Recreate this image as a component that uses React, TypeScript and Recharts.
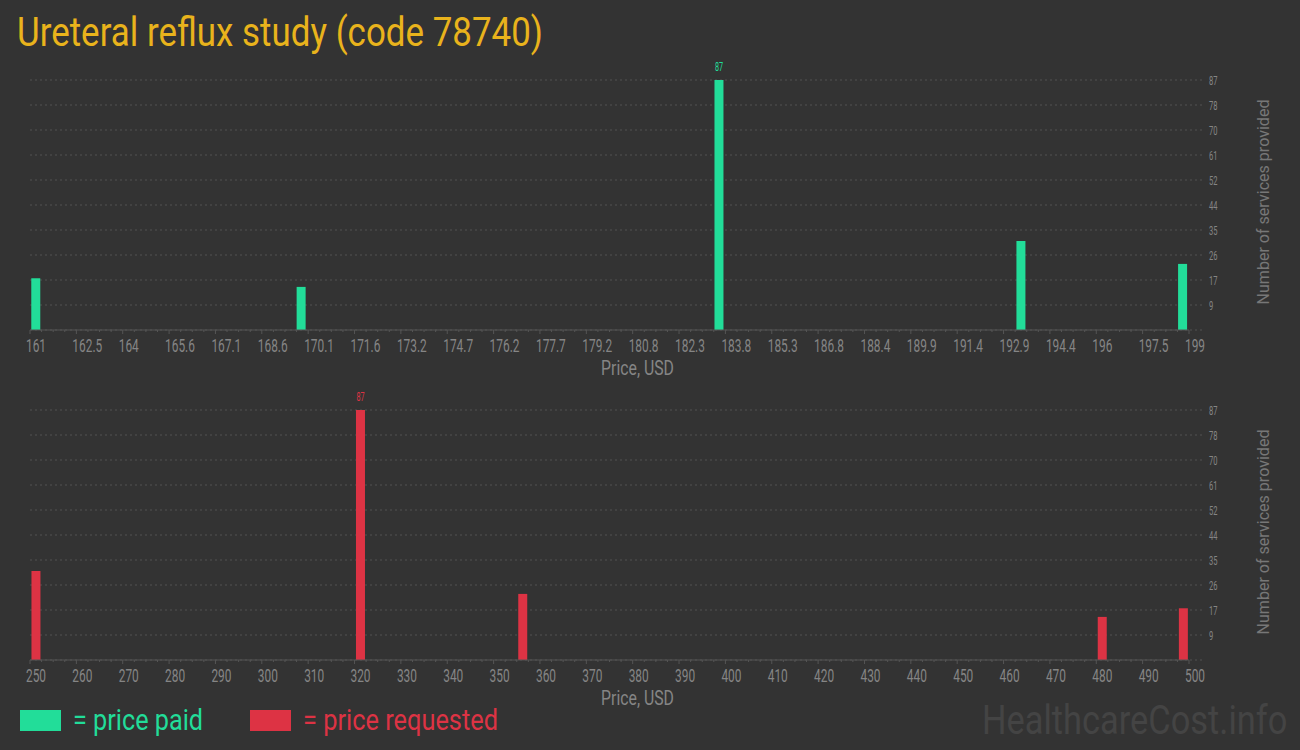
import React from 'react';
import { BarChart, Bar, XAxis, YAxis, CartesianGrid, ReferenceLine, LabelList } from 'recharts';

const paidPrices = [161.2, 169.9, 183.6, 193.5, 198.8];
const paidCounts = [18, 15, 87, 31, 23];
const requestedPrices = [251.3, 321.3, 356.3, 481.3, 498.8];
const requestedCounts = [31, 87, 23, 15, 18];

const paidTicks = [
  161, 162.52, 164.04, 165.56, 167.08, 168.6, 170.12, 171.64, 173.16, 174.68, 176.2, 177.72, 179.24,
  180.76, 182.28, 183.8, 185.32, 186.84, 188.36, 189.88, 191.4, 192.92, 194.44, 195.96, 197.48, 199,
];
const requestedTicks = [
  250, 260, 270, 280, 290, 300, 310, 320, 330, 340, 350, 360, 370, 380, 390, 400, 410, 420, 430, 440,
  450, 460, 470, 480, 490, 500,
];
const countTicks = [8.7, 17.4, 26.1, 34.8, 43.5, 52.2, 60.9, 69.6, 78.3, 87];

const GREEN = '#22dd99';
const RED = '#dd3344';
const BG = '#333333';
const AXIS = '#555555';
const MUTED = '#858585';

const fmt = (v: number) => String(Number(v.toFixed(1)));

// major ticks plus 3 minor ticks in each gap
const withMinor = (majors: number[]) => {
  const out: number[] = [];
  majors.forEach((m, i) => {
    out.push(m);
    if (i < majors.length - 1) {
      const step = (majors[i + 1] - m) / 4;
      for (let j = 1; j < 4; j++) out.push(m + step * j);
    }
  });
  return out;
};

const XTick = ({ x, y, payload, majors }: any) => {
  const major = majors.includes(payload.value);
  return (
    <g>
      <line x1={x} x2={x} y1={y} y2={y + (major ? 4 : 2)} stroke={AXIS} />
      {major && (
        <text
          transform={`translate(${x - 4},${y + 21.5}) scale(0.66,1)`}
          fill={MUTED}
          fontSize={18}
          fontFamily="Roboto"
        >
          {fmt(payload.value)}
        </text>
      )}
    </g>
  );
};

const YTick = ({ x, y, payload }: any) => (
  <text transform={`translate(${x + 4},${y + 4.5}) scale(0.58,1)`} fill={MUTED} fontSize={13} fontFamily="Roboto">
    {Math.round(payload.value)}
  </text>
);

const XTitle = (props: any) => {
  const vb = props.viewBox || { x: 30, y: 330, width: 1175 };
  return (
    <text
      transform={`translate(${vb.x + vb.width / 2 + 20},${vb.y + 44.5}) scale(0.79,1)`}
      textAnchor="middle"
      fill={MUTED}
      fontSize={20}
      fontFamily="Roboto"
    >
      Price, USD
    </text>
  );
};

const YTitle = (props: any) => {
  const vb = props.viewBox || { x: 1205, y: 80, width: 95, height: 250 };
  const cx = vb.x + 63.6;
  const cy = vb.y + vb.height / 2 - 3;
  return (
    <text
      x={cx}
      y={cy}
      transform={`rotate(-90,${cx},${cy})`}
      textAnchor="middle"
      fill="#777777"
      fontSize={17}
      fontFamily="Roboto"
      textLength={205}
      lengthAdjust="spacingAndGlyphs"
    >
      Number of services provided
    </text>
  );
};

interface HistProps {
  prices: number[];
  counts: number[];
  ticks: number[];
  color: string;
}

function Histogram({ prices, counts, ticks, color }: HistProps) {
  const data = prices.map((p, i) => ({ price: p, count: counts[i] }));
  const lo = ticks[0];
  const hi = ticks[ticks.length - 1];
  const peak = Math.max(...counts);

  return (
    <BarChart width={1300} height={380} data={data} margin={{ top: 80, right: 0, bottom: 0, left: 30 }}>
      <CartesianGrid horizontal vertical={false} stroke="#525252" strokeDasharray="2 3" />
      <XAxis
        dataKey="price"
        type="number"
        domain={[lo, hi]}
        ticks={withMinor(ticks)}
        interval={0}
        height={50}
        padding={{ left: 0, right: 16 }}
        axisLine={false}
        tickLine={false}
        tickSize={0}
        tickMargin={0}
        tick={<XTick majors={ticks} />}
        label={<XTitle />}
      />
      <YAxis
        orientation="right"
        width={95}
        domain={[0, peak]}
        ticks={countTicks}
        interval={0}
        axisLine={false}
        tickLine={false}
        tickSize={0}
        tickMargin={0}
        tick={<YTick />}
        label={<YTitle />}
      />
      <Bar dataKey="count" fill={color} barSize={9} isAnimationActive={false}>
        <LabelList
          dataKey="count"
          content={(p: any) =>
            p.value === peak ? (
              <text
                transform={`translate(${p.x + p.width / 2},${p.y - 9}) scale(0.6,1)`}
                textAnchor="middle"
                fill={color}
                fontSize={12}
                fontFamily="Roboto"
              >
                {p.value}
              </text>
            ) : null
          }
        />
      </Bar>
      <ReferenceLine
        segment={[
          { x: lo, y: 0 },
          { x: hi, y: 0 },
        ]}
        stroke={AXIS}
      />
    </BarChart>
  );
}

export default function App() {
  return (
    <div
      style={{
        position: 'fixed',
        left: 0,
        top: 0,
        width: 1300,
        height: 750,
        background: BG,
        overflow: 'hidden',
        fontFamily: 'Roboto',
      }}
    >
      <div style={{ position: 'absolute', left: 0, top: 0 }}>
        <Histogram prices={paidPrices} counts={paidCounts} ticks={paidTicks} color={GREEN} />
      </div>
      <div style={{ position: 'absolute', left: 0, top: 330 }}>
        <Histogram prices={requestedPrices} counts={requestedCounts} ticks={requestedTicks} color={RED} />
      </div>
      <svg
        width={1300}
        height={750}
        style={{ position: 'absolute', left: 0, top: 0, pointerEvents: 'none' }}
      >
        <text x={17} y={46} fill="#e9b31c" fontSize={41} fontFamily="Roboto" textLength={526} lengthAdjust="spacingAndGlyphs">
          Ureteral reflux study (code 78740)
        </text>
        <rect x={20} y={710} width={41} height={21} fill={GREEN} />
        <text x={73} y={730} fill={GREEN} fontSize={30} fontFamily="Roboto" textLength={130} lengthAdjust="spacingAndGlyphs">
          = price paid
        </text>
        <rect x={250} y={710} width={41} height={21} fill={RED} />
        <text x={303} y={730} fill={RED} fontSize={30} fontFamily="Roboto" textLength={195} lengthAdjust="spacingAndGlyphs">
          = price requested
        </text>
        <text transform="translate(982,734) scale(0.86,1)" fill="#444444" fontSize={40} fontFamily="Roboto">
          HealthcareCost.info
        </text>
      </svg>
    </div>
  );
}
